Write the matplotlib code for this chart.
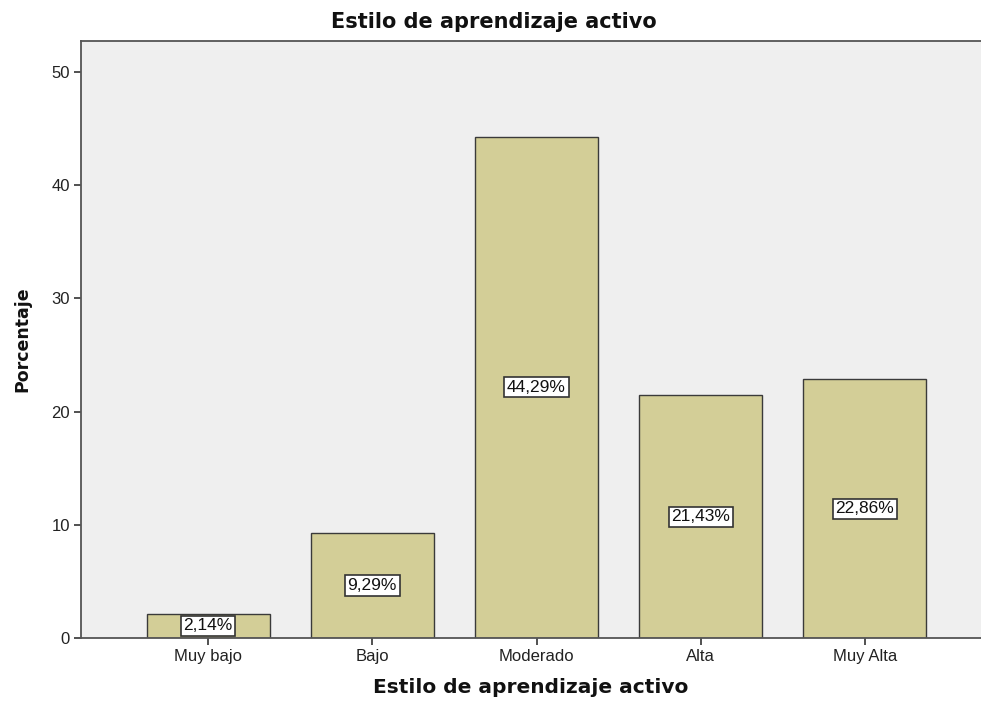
import matplotlib.pyplot as plt

plt.rcParams["font.family"] = ["Liberation Sans", "DejaVu Sans"]

# data
categories = ["Muy bajo", "Bajo", "Moderado", "Alta", "Muy Alta"]
percentages = [2.14, 9.29, 44.29, 21.43, 22.86]
y_ticks = [0, 10, 20, 30, 40, 50]

fig = plt.figure(figsize=(9.81, 7.06), dpi=100)
ax = fig.add_axes([81 / 981, 68 / 706, 1 - 81 / 981, (638 - 41) / 706])
ax.set_facecolor("#efefef")

positions = range(len(categories))
bars = ax.bar(positions, percentages, width=0.75, color="#d3ce97",
              edgecolor="#3a3a3a", linewidth=1.0, zorder=2)

# percentage labels in white boxes at half height of each bar
for pos, value in zip(positions, percentages):
    label = f"{value:.2f}%".replace(".", ",")
    ax.text(pos, value / 2, label, ha="center", va="center", fontsize=12.5,
            color="#111111", zorder=3,
            bbox=dict(boxstyle="square,pad=0.15", facecolor="white",
                      edgecolor="#333333", linewidth=1.2))

ax.set_xlim(-0.774, 4.707)
ax.set_ylim(0, 52.74)
ax.set_xticks(list(positions))
ax.set_xticklabels(categories)
ax.set_yticks(y_ticks)
ax.tick_params(axis="both", direction="out", length=5, width=1.2,
               color="#333333", labelsize=12, labelcolor="#222222", pad=3)

ax.spines["right"].set_visible(False)
for side in ["left", "top", "bottom"]:
    ax.spines[side].set_color("#555555")
    ax.spines[side].set_linewidth(1.3)

bold_font = dict(family="DejaVu Sans", fontweight="bold", color="#111111")
ax.set_ylabel("Porcentaje", fontsize=12.5, labelpad=14, **bold_font)
ax.set_xlabel("Estilo de aprendizaje activo", fontsize=14.5, labelpad=10,
              **bold_font)
fig.text(494 / 981, 1 - 22 / 706, "Estilo de aprendizaje activo",
         ha="center", va="center", fontsize=15, **bold_font)

fig.savefig("out.png", dpi=100)
